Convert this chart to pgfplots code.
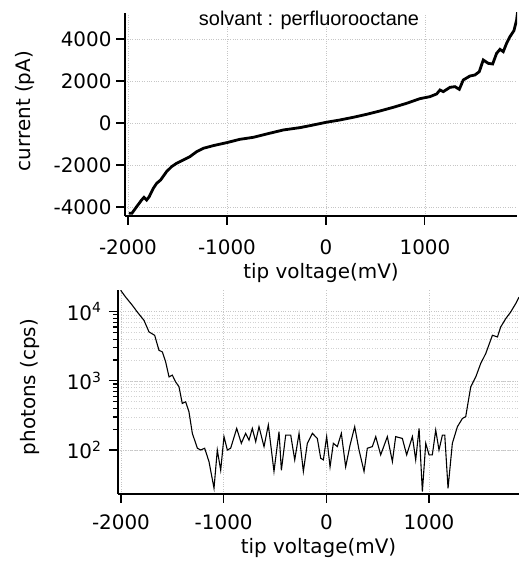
\documentclass[border=0pt]{standalone}
\usepackage{fontspec}
\setmainfont{DejaVu Sans}
\newfontfamily\arialfont{Liberation Sans}
\usepackage{pgfplots}
\pgfplotsset{compat=1.18}

\pgfplotsset{
  igor/.style={
    scale only axis,
    axis x line=bottom, axis y line=left,
    axis line style={-, line width=1.3bp},
    tick align=outside,
    major tick length=9bp, minor tick length=5bp,
    every tick/.style={black, line width=1.1bp},
    grid style={gray!45, dotted, line width=0.6bp},
    tick label style={font=\fontsize{20}{24}\selectfont},
    label style={font=\fontsize{20}{24}\selectfont},
    clip=true,
  },
}

\begin{document}
\begin{tikzpicture}
\useasboundingbox (0,0) rectangle (519bp,561bp);

% upper panel: I-V curve
\begin{axis}[igor,
  at={(125bp,345bp)}, anchor=south west,
  width=392bp, height=203bp,
  xmin=-2030, xmax=1930, ymin=-4430, ymax=5238,
  xtick={-2000,-1000,0,1000}, xticklabels={-2000,-1000,0,1000},
  ytick={-4000,-2000,0,2000,4000}, yticklabels={-4000,-2000,0,2000,4000},
  xticklabel style={yshift=-11bp},
  yticklabel style={xshift=-1bp},
  grid=major,
  xlabel={tip voltage(mV)}, ylabel={current (pA)},
  xlabel style={at={(axis description cs:0.5,-0.31)}, anchor=base},
  ylabel style={at={(axis description cs:-0.255,0.517)}, anchor=center},
]
\addplot[black, line width=2.8bp] coordinates {
(-1990,-4300) (-1960,-4300) (-1912,-3985) (-1862,-3667) (-1838,-3540)
(-1811,-3667) (-1785,-3508) (-1744,-3111) (-1710,-2873) (-1670,-2714)
(-1610,-2317) (-1559,-2079) (-1509,-1920) (-1441,-1762) (-1374,-1603)
(-1306,-1365) (-1239,-1206) (-1138,-1079) (-1003,-937) (-869,-778)
(-734,-683) (-599,-524) (-431,-333) (-263,-222) (-128,-95) (0,30)
(141,143) (276,270) (411,413) (545,571) (680,746) (815,937) (949,1158)
(1050,1254) (1118,1381) (1152,1571) (1185,1492) (1253,1698) (1303,1730)
(1347,1603) (1387,2047) (1455,2238) (1505,2286) (1549,2444) (1589,3000)
(1640,2840) (1684,2810) (1724,3317) (1758,3508) (1791,3397) (1825,3794)
(1859,4111) (1899,4397) (1926,4905) (1936,5300)
};
\end{axis}

\node[font=\arialfont\fontsize{20}{24}\selectfont, anchor=base] at (309bp,535bp)
  {solvant : perfluorooctane};

% lower panel: photon counts
\begin{axis}[igor,
  at={(118bp,67bp)}, anchor=south west,
  width=401bp, height=204bp,
  ymode=log,
  xmin=-2029, xmax=1876, ymin=23.1, ymax=20600,
  xtick={-2000,-1000,0,1000}, xticklabels={-2000,-1000,0,1000},
  xticklabel style={yshift=-8bp},
  ytick={100,1000,10000},
  yticklabels={10\textsuperscript{2},10\textsuperscript{3},10\textsuperscript{4}},
  yticklabel style={xshift=-4bp},
  grid=both,
  minor grid style={gray!35, dotted, line width=0.5bp},
  xlabel={tip voltage(mV)}, ylabel={photons (cps)},
  xlabel style={at={(axis description cs:0.5,-0.292)}, anchor=base},
  ylabel style={at={(axis description cs:-0.219,0.524)}, anchor=center},
]
\addplot[black, line width=1.1bp] coordinates {
(-2003,20400) (-1955,16300) (-1890,12400) (-1841,9900) (-1776,7500)
(-1727,5100) (-1672,4560) (-1630,2770) (-1597,2620) (-1565,1880)
(-1532,1140) (-1500,1210) (-1468,968) (-1435,820) (-1403,471)
(-1370,498) (-1338,357) (-1305,174) (-1256,106) (-1224,100)
(-1185,106) (-1143,68) (-1094,28) (-1062,100) (-1029,51) (-997,156)
(-964,100) (-932,106) (-873,205) (-828,125) (-786,174) (-753,139)
(-721,205) (-688,132) (-656,217) (-607,112) (-565,230) (-510,49)
(-461,184) (-438,51) (-396,164) (-347,164) (-308,72) (-266,174)
(-224,49) (-185,125) (-136,174) (-88,147) (-55,76) (-29,72) (3,156)
(36,57) (68,125) (107,112) (146,174) (188,57) (231,118) (276,217)
(318,100) (367,49) (399,106) (448,112) (481,156) (529,85) (594,156)
(643,68) (675,156) (740,147) (782,85) (838,156) (870,72) (903,205)
(935,25) (968,125) (1000,85) (1032,85) (1065,194) (1097,100)
(1130,164) (1153,164) (1185,28) (1227,125) (1276,217) (1325,286)
(1357,303) (1406,820) (1455,1140) (1503,1780) (1552,2480) (1617,4560)
(1666,4310) (1698,6020) (1747,7940) (1795,9900) (1844,13100) (1877,16300)
};
\end{axis}
\end{tikzpicture}
\end{document}
